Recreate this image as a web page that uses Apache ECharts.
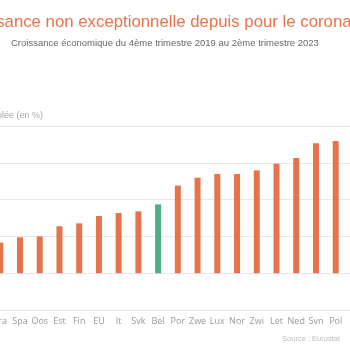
<!DOCTYPE html>
<html>
<head>
<meta charset="utf-8">
<script src="https://cdn.jsdelivr.net/npm/echarts@6/dist/echarts.min.js"></script>
<style>
  html, body { margin: 0; padding: 0; background: #fff; overflow: hidden; }
  #wrap { position: relative; width: 350px; height: 350px; overflow: hidden; }
  /* de grafiek is breder dan het venster: links en rechts valt een stuk weg */
  #chart { position: absolute; left: -10px; top: 0; width: 376px; height: 350px; }
</style>
</head>
<body>
<div id="wrap"><div id="chart"></div></div>
<script>
// landen (afgekort), croissance cumulée en %
const landen = ['Fra','Spa','Oos','Est','Fin','EU','It','Svk','Bel','Por','Zwe','Lux','Nor','Zwi','Let','Ned','Svn','Pol'];
const groei = [1.66, 1.95, 2.0, 2.55, 2.71, 3.11, 3.27, 3.36, 3.74, 4.76, 5.19, 5.39, 5.39, 5.59, 5.95, 6.26, 7.06, 7.18];
const highlight = 'Bel';

const oranje = '#E8734A';
const groen = '#4DAE87';

let chart = echarts.init(document.getElementById('chart'));

let option = {
    animation: false,
    title: [{
        text: 'Croissance non exceptionnelle depuis pour le coronavirus',
        left: -33,
        top: 14,
        padding: 0,
        textStyle: {
            color: oranje,
            fontSize: 16.8,
            fontWeight: 'normal',
            fontFamily: 'Liberation Sans'
        }
    }, {
        text: 'Croissance économique du 4ème trimestre 2019 au 2ème trimestre 2023',
        left: 21,
        top: 38,
        padding: 0,
        textStyle: {
            color: '#666',
            fontSize: 9.5,
            fontWeight: 'normal',
            fontFamily: 'Liberation Sans'
        }
    }, {
        text: 'Croissance cumulée (en %)',
        right: 323,
        top: 111,
        padding: 0,
        textStyle: {
            color: '#aaa',
            fontSize: 9,
            fontWeight: 'normal',
            fontFamily: 'Liberation Sans'
        }
    }, {
        text: 'Source : Eurostat',
        right: 26,
        top: 335,
        padding: 0,
        textStyle: {
            color: '#bbb',
            fontSize: 7.5,
            fontWeight: 'normal',
            fontFamily: 'Liberation Sans'
        }
    }],
    grid: {
        left: 0.4,
        right: 0.7,
        top: 126,
        bottom: 40,
        containLabel: false
    },
    xAxis: {
        type: 'category',
        data: landen,
        max: landen.length,
        axisLine: { show: false, onZero: false },
        axisTick: { show: false },
        axisLabel: {
            color: '#999',
            fontSize: 9,
            margin: 7,
            fontFamily: 'Open Sans',
            interval: 0,
            formatter: function (v) {
                return landen.indexOf(v) >= 0 ? v : '';
            }
        }
    },
    yAxis: {
        type: 'value',
        min: -2,
        max: 8,
        interval: 2,
        axisLabel: { show: false },
        splitLine: { lineStyle: { color: '#e8e8e8', width: 1 } }
    },
    series: [{
        type: 'bar',
        barWidth: 6,
        data: groei.map((v, i) => ({
            value: v,
            itemStyle: { color: landen[i] === highlight ? groen : oranje }
        }))
    }]
};

chart.setOption(option);
</script>
</body>
</html>
